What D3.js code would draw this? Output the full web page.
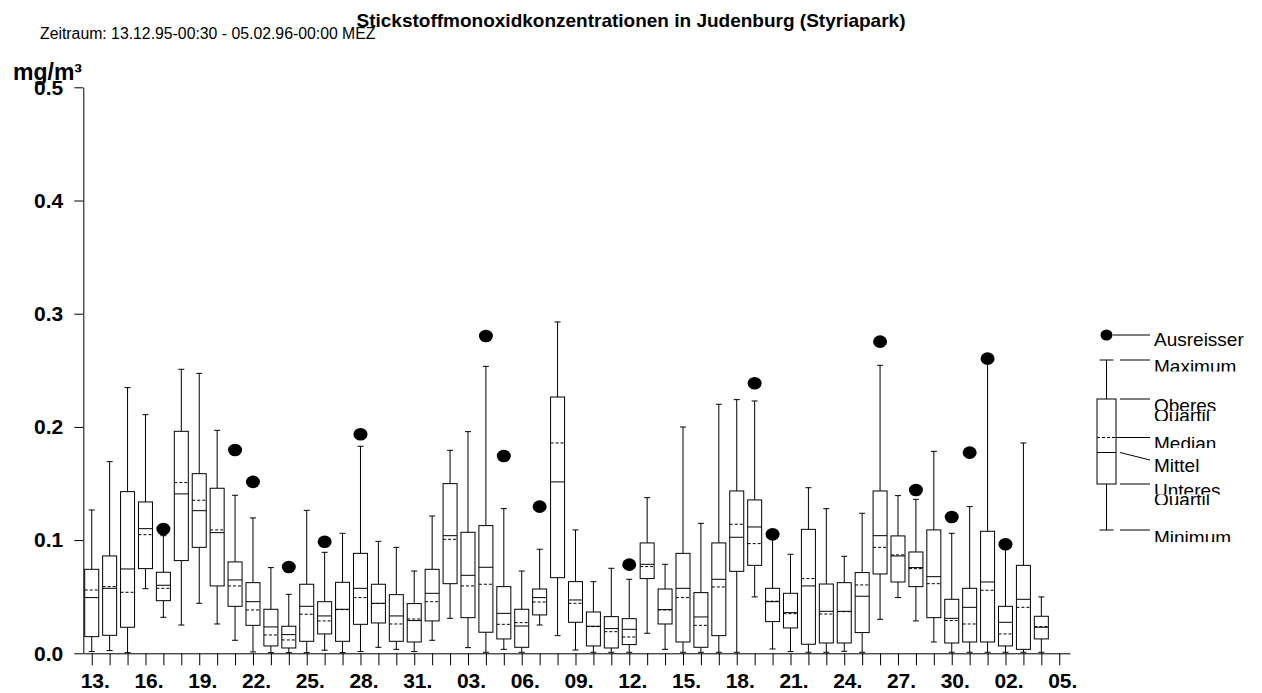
<!DOCTYPE html>
<html>
<head>
<meta charset="utf-8">
<script src="https://cdn.jsdelivr.net/npm/d3@7"></script>
<style>
  html, body { margin: 0; padding: 0; background: #fff; }
  svg { display: block; font-family: "Liberation Sans", Arial, sans-serif; }
</style>
</head>
<body>
<script>
// ---- data (one box per day, 13.12.95 .. 04.02.96) ----
const dayLabels = ["13.","14.","15.","16.","17.","18.","19.","20.","21.","22.","23.","24.","25.","26.","27.","28.","29.","30.","31.",
  "01.","02.","03.","04.","05.","06.","07.","08.","09.","10.","11.","12.","13.","14.","15.","16.","17.","18.","19.","20.",
  "21.","22.","23.","24.","25.","26.","27.","28.","29.","30.","31.","01.","02.","03.","04.","05."];
const yTickValues = [0.0, 0.1, 0.2, 0.3, 0.4, 0.5];

const minV = [0.0015,0.0024,0.0006,0.0571,0.0318,0.0250,0.0442,0.0259,0.0115,0.0012,0.0006,0.0006,0.0006,0.0027,0.0006,0.0015,0.0053,0.0035,0.0015,
  0.0115,0.0309,0.0050,0.0009,0.0035,0.0009,0.0250,0.0156,0.0029,0.0009,0.0009,0.0009,0.0177,0.0035,0.0009,0.0009,0.0009,0.0009,0.0498,0.0038,
  0.0015,0.0009,0.0009,0.0018,0.0009,0.0300,0.0492,0.0286,0.0100,0.0009,0.0009,0.0009,0.0009,0.0009,0.0009];
const q1V = [0.0147,0.0159,0.0230,0.0748,0.0465,0.0819,0.0936,0.0595,0.0415,0.0247,0.0065,0.0047,0.0106,0.0171,0.0106,0.0256,0.0268,0.0106,0.0100,
  0.0286,0.0615,0.0315,0.0186,0.0127,0.0053,0.0339,0.0668,0.0274,0.0065,0.0047,0.0077,0.0660,0.0259,0.0100,0.0053,0.0156,0.0724,0.0777,0.0280,
  0.0224,0.0080,0.0091,0.0091,0.0183,0.0701,0.0630,0.0589,0.0315,0.0091,0.0100,0.0100,0.0065,0.0035,0.0127];
const medianV = [0.0559,0.0589,0.0539,0.1048,0.0574,0.1508,0.1352,0.1090,0.0595,0.0383,0.0162,0.0118,0.0345,0.0286,0.0386,0.0492,0.0440,0.0259,0.0303,
  0.0456,0.1007,0.0595,0.0610,0.0256,0.0271,0.0453,0.1858,0.0442,0.0236,0.0191,0.0144,0.0766,0.0383,0.0492,0.0247,0.0586,0.1140,0.0969,0.0460,
  0.0350,0.0660,0.0347,0.0368,0.0604,0.0936,0.0869,0.0748,0.0615,0.0289,0.0259,0.0557,0.0171,0.0406,0.0236];
const meanV = [0.0492,0.0574,0.0745,0.1101,0.0601,0.1408,0.1260,0.1066,0.0648,0.0456,0.0233,0.0165,0.0415,0.0330,0.0389,0.0574,0.0442,0.0330,0.0289,
  0.0530,0.1039,0.0689,0.0760,0.0353,0.0241,0.0492,0.1514,0.0471,0.0239,0.0218,0.0212,0.0786,0.0386,0.0574,0.0321,0.0654,0.1025,0.1116,0.0456,
  0.0359,0.0595,0.0371,0.0371,0.0504,0.1039,0.0860,0.0757,0.0677,0.0309,0.0406,0.0630,0.0274,0.0477,0.0230];
const q3V = [0.0742,0.0860,0.1428,0.1337,0.0716,0.1961,0.1587,0.1458,0.0807,0.0624,0.0389,0.0239,0.0610,0.0456,0.0627,0.0883,0.0610,0.0518,0.0439,
  0.0742,0.1499,0.1069,0.1128,0.0589,0.0389,0.0568,0.2264,0.0633,0.0365,0.0324,0.0306,0.0975,0.0568,0.0883,0.0536,0.0975,0.1434,0.1355,0.0574,
  0.0530,0.1095,0.0612,0.0624,0.0713,0.1434,0.1037,0.0895,0.1090,0.0477,0.0574,0.1078,0.0415,0.0777,0.0327];
const maxV = [0.1266,0.1693,0.2347,0.2108,0.1039,0.2509,0.2473,0.1970,0.1396,0.1196,0.0757,0.0521,0.1263,0.0892,0.1060,0.1829,0.0989,0.0936,0.0727,
  0.1213,0.1793,0.1958,0.2535,0.1278,0.0727,0.0919,0.2927,0.1090,0.0633,0.0751,0.0654,0.1375,0.0786,0.1999,0.1148,0.2200,0.2241,0.2229,0.1040,
  0.0875,0.1463,0.1278,0.0857,0.1237,0.2544,0.1393,0.1360,0.1784,0.1060,0.1296,0.2590,0.0950,0.1858,0.0498];
const outlierV = [null,null,null,null,0.1098,null,null,null,0.1796,0.1514,null,0.0763,null,0.0986,null,0.1935,null,null,null,
  null,null,null,0.2803,0.1743,null,0.1296,null,null,null,null,0.0783,null,null,null,null,null,null,0.2385,0.1051,
  null,null,null,null,null,0.2753,null,0.1443,null,0.1204,0.1773,0.2603,0.0963,null,null];

const legendLabels = ["Ausreisser","Maximum","Oberes","Quartil","Median","Mittel","Unteres","Quartil","Minimum"];

// ---- layout ----
const W = 1262, H = 693;
const svg = d3.select("body").append("svg").attr("width", W).attr("height", H);

const x = d3.scaleLinear().domain([-0.47, 54.6]).range([83.3, 1070]);
const y = d3.scaleLinear().domain([0, 0.5]).range([653.3, 87.3]);

const boxW = 14, capW = 6;

// title
svg.append("text").attr("x", 631).attr("y", 27).attr("text-anchor", "middle")
  .style("font-weight", "bold").style("font-size", "19px").text("Stickstoffmonoxidkonzentrationen in Judenburg (Styriapark)");
svg.append("text").attr("x", 40).attr("y", 38.5)
  .style("font-size", "15.8px").text("Zeitraum: 13.12.95-00:30 - 05.02.96-00:00 MEZ");
svg.append("text").attr("x", 13).attr("y", 80)
  .style("font-weight", "bold").style("font-size", "23px").text("mg/m³");

// axes
const yAxis = d3.axisLeft(y).tickValues(yTickValues).tickFormat(d3.format(".1f"))
  .tickSize(9).tickSizeOuter(0).tickPadding(11);
const gy = svg.append("g").attr("transform", "translate(83.3,0)").call(yAxis);
gy.selectAll("text").style("font-size", "21px").style("font-weight", "bold").attr("fill", "#000");
gy.selectAll("line, path").attr("stroke", "#000");

const xAxis = d3.axisBottom(x).tickValues(d3.range(dayLabels.length))
  .tickFormat(i => i % 3 === 0 ? dayLabels[i] : "")
  .tickSize(12).tickSizeOuter(0).tickPadding(8);
const gx = svg.append("g").attr("transform", "translate(0,653.3)").call(xAxis);
gx.selectAll("text").style("font-size", "21px").style("font-weight", "bold").attr("fill", "#000").attr("dx", "3");
gx.selectAll("line, path").attr("stroke", "#000");

// boxes
const idx = d3.range(minV.length);
const g = svg.append("g").attr("stroke", "#000").attr("stroke-width", 1).attr("fill", "none");
const b = g.selectAll("g.box").data(idx).join("g").attr("class", "box");
b.append("line").attr("x1", i => x(i)).attr("x2", i => x(i)).attr("y1", i => y(q3V[i])).attr("y2", i => y(maxV[i]));
b.append("line").attr("x1", i => x(i)).attr("x2", i => x(i)).attr("y1", i => y(q1V[i])).attr("y2", i => y(minV[i]));
b.append("line").attr("x1", i => x(i) - capW / 2).attr("x2", i => x(i) + capW / 2).attr("y1", i => y(maxV[i])).attr("y2", i => y(maxV[i]));
b.append("line").attr("x1", i => x(i) - capW / 2).attr("x2", i => x(i) + capW / 2).attr("y1", i => y(minV[i])).attr("y2", i => y(minV[i]));
b.append("rect").attr("x", i => x(i) - boxW / 2).attr("width", boxW)
  .attr("y", i => y(q3V[i])).attr("height", i => y(q1V[i]) - y(q3V[i])).attr("fill", "#fff");
b.append("line").attr("x1", i => x(i) - boxW / 2).attr("x2", i => x(i) + boxW / 2)
  .attr("y1", i => y(medianV[i])).attr("y2", i => y(medianV[i])).attr("stroke-dasharray", "3,2");
b.append("line").attr("x1", i => x(i) - boxW / 2).attr("x2", i => x(i) + boxW / 2)
  .attr("y1", i => y(meanV[i])).attr("y2", i => y(meanV[i]));
b.filter(i => outlierV[i] !== null).append("ellipse")
  .attr("cx", i => x(i)).attr("cy", i => y(outlierV[i])).attr("rx", 7).attr("ry", 6.3)
  .attr("fill", "#000").attr("stroke", "none");

// legend
const L = svg.append("g").attr("stroke", "#000").attr("stroke-width", 1).attr("fill", "none");
const lx = 1106.5;
L.append("ellipse").attr("cx", lx).attr("cy", 335).attr("rx", 6).attr("ry", 5.5).attr("fill", "#000").attr("stroke", "none");
L.append("line").attr("x1", 1113).attr("x2", 1150).attr("y1", 335).attr("y2", 335);
L.append("line").attr("x1", lx).attr("x2", lx).attr("y1", 360).attr("y2", 399);
L.append("line").attr("x1", lx).attr("x2", lx).attr("y1", 484).attr("y2", 530);
L.append("line").attr("x1", lx - 7).attr("x2", lx + 7).attr("y1", 360).attr("y2", 360);
L.append("line").attr("x1", lx - 7).attr("x2", lx + 7).attr("y1", 530).attr("y2", 530);
L.append("rect").attr("x", 1097).attr("y", 399).attr("width", 19).attr("height", 85).attr("fill", "#fff");
L.append("line").attr("x1", 1097).attr("x2", 1116).attr("y1", 437.5).attr("y2", 437.5).attr("stroke-dasharray", "3,2");
L.append("line").attr("x1", 1116).attr("x2", 1150).attr("y1", 437.5).attr("y2", 437.5);
L.append("line").attr("x1", 1097).attr("x2", 1116).attr("y1", 452.5).attr("y2", 452.5);
L.append("line").attr("x1", 1120).attr("x2", 1150).attr("y1", 452.5).attr("y2", 460);
[360, 399, 484, 530].forEach(v => L.append("line").attr("x1", 1120).attr("x2", 1150).attr("y1", v).attr("y2", v));

const legendText = [
  { base: 345.5, c0: 332.5, c1: 347 },
  { base: 373,   c0: 358,   c1: 371.5 },
  { base: 412,   c0: 397,   c1: 411 },
  { base: 422,   c0: 411,   c1: 421 },
  { base: 450.3, c0: 435,   c1: 448 },
  { base: 471.6, c0: 456,   c1: 472 },
  { base: 497,   c0: 482,   c1: 494.5 },
  { base: 506,   c0: 494.5, c1: 505 },
  { base: 543.6, c0: 528,   c1: 542 }
];
const defs = svg.append("defs");
legendText.forEach((t, k) => {
  defs.append("clipPath").attr("id", "lc" + k).append("rect")
    .attr("x", 1150).attr("y", t.c0).attr("width", 112).attr("height", t.c1 - t.c0);
  svg.append("text").attr("x", 1154).attr("y", t.base).attr("clip-path", "url(#lc" + k + ")")
    .style("font-size", "19px").attr("fill", "#000").text(legendLabels[k]);
});
</script>
</body>
</html>
